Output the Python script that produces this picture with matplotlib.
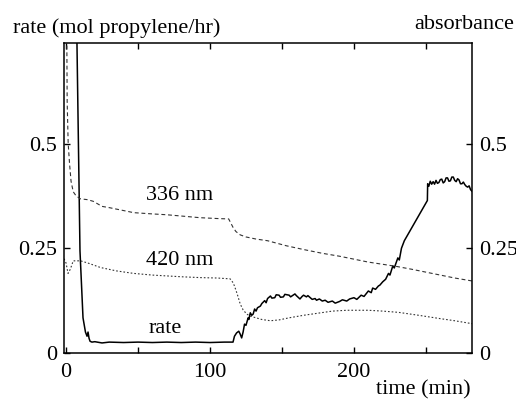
import matplotlib
matplotlib.use("Agg")
import matplotlib.pyplot as plt

# propylene rate (solid), readings against time in minutes
rate_t = [0, 7.0, 7.6, 9.7, 11.8, 13.5, 14.6, 15.3, 16.0, 16.7, 18, 20, 25, 30, 40,
          50, 60, 70, 80, 90, 100, 110, 116, 117, 118.5, 120, 121, 122, 123, 124,
          125, 126.5, 127, 128, 129, 130, 131, 132, 133, 135, 136, 138, 139, 140,
          142, 143, 145, 146, 148, 149, 151, 152, 155, 156, 159, 160, 162.5, 164,
          165, 167, 168, 170, 171, 173, 174, 176, 178, 180, 182, 185, 187, 190, 192,
          195, 197, 200, 202, 205, 207, 210, 212, 213, 215, 217, 218, 220, 222, 224,
          225, 227, 228, 230.5, 231.5, 233, 235, 251, 251.2, 252, 253, 254, 255,
          256, 257, 258, 259, 260, 261, 262, 263, 264, 265, 266, 267, 268, 269,
          270, 271, 272, 273, 274, 275, 276, 277, 278, 279, 280, 281, 282]
rate = [1.5, 1.5, 0.74, 0.244, 0.084, 0.05, 0.04, 0.05, 0.035, 0.028, 0.026, 0.027,
        0.024, 0.026, 0.025, 0.026, 0.025, 0.026, 0.025, 0.026, 0.025, 0.026, 0.026,
        0.04, 0.048, 0.052, 0.045, 0.036, 0.05, 0.069, 0.066, 0.084, 0.08, 0.096,
        0.09, 0.093, 0.105, 0.1, 0.108, 0.112, 0.118, 0.125, 0.12, 0.13, 0.136,
        0.131, 0.132, 0.139, 0.138, 0.133, 0.134, 0.14, 0.138, 0.134, 0.141, 0.137,
        0.129, 0.135, 0.138, 0.134, 0.137, 0.131, 0.128, 0.13, 0.126, 0.129, 0.124,
        0.126, 0.121, 0.124, 0.119, 0.123, 0.127, 0.124, 0.129, 0.132, 0.128, 0.138,
        0.135, 0.148, 0.144, 0.155, 0.152, 0.16, 0.162, 0.17, 0.176, 0.19, 0.186,
        0.208, 0.203, 0.227, 0.222, 0.25, 0.268, 0.364, 0.404, 0.398, 0.41, 0.403,
        0.409, 0.403, 0.412, 0.405, 0.407, 0.414, 0.415, 0.406, 0.409, 0.418,
        0.418, 0.41, 0.411, 0.42, 0.42, 0.412, 0.409, 0.416, 0.413, 0.404, 0.404,
        0.408, 0.402, 0.398, 0.396, 0.399, 0.39, 0.386]

# absorbance at 336 nm (dashed)
a336_t = [0.3, 0.8, 1.5, 2.5, 3.5, 5, 7, 10, 15, 19, 25, 30, 40, 47, 60, 70, 80, 93,
          105, 113, 116, 118, 121, 125, 132, 140, 153, 165, 178, 190, 200, 210, 229,
          240, 250, 260, 270, 282]
a336 = [0.9, 0.6, 0.5, 0.45, 0.41, 0.385, 0.375, 0.368, 0.366, 0.362, 0.35, 0.347,
        0.34, 0.335, 0.332, 0.33, 0.327, 0.323, 0.321, 0.32, 0.30, 0.29, 0.282, 0.277,
        0.272, 0.268, 0.256, 0.247, 0.238, 0.231, 0.224, 0.217, 0.207, 0.2, 0.193,
        0.186, 0.179, 0.172]

# absorbance at 420 nm (dotted)
a420_t = [-1.4, 0, 1.4, 3, 5, 10, 15, 24, 35, 47, 60, 70, 80, 93, 105, 114, 116, 117,
          119, 121, 123, 125.5, 128, 132, 136, 142, 148, 155, 165, 175, 185, 195, 210,
          220, 231, 245, 260, 270, 282]
a420 = [0.225, 0.215, 0.19, 0.2, 0.22, 0.22, 0.215, 0.204, 0.196, 0.19, 0.186, 0.184,
        0.182, 0.18, 0.179, 0.177, 0.168, 0.16, 0.14, 0.117, 0.103, 0.093, 0.088, 0.084,
        0.08, 0.077, 0.079, 0.084, 0.09, 0.095, 0.1, 0.102, 0.102, 0.1, 0.097, 0.09,
        0.082, 0.077, 0.07]

x_ticks = [0, 50, 100, 150, 200, 250]
x_labels = ["0", "", "100", "", "200", ""]
y_ticks = [0, 0.25, 0.5]
y_labels = ["0", "0.25", "0.5"]

plt.rcParams["font.family"] = "Liberation Serif"
fs = 16

fig = plt.figure(figsize=(5.16, 4.0), dpi=100)
ax = fig.add_axes([64 / 516, 47 / 400, 408 / 516, 310 / 400])

ax.plot(rate_t, rate, color="black", lw=1.1)
ax.plot(a336_t, a336, color="#333333", lw=0.8, linestyle=(0, (3.5, 2.5)))
ax.plot(a420_t, a420, color="#333333", lw=0.8, linestyle=(0, (1.5, 1.8)))

ax.set_xlim(-1.4, 282)
ax.set_ylim(0, 0.74)
ax.set_xticks(x_ticks)
ax.set_xticklabels(x_labels)
ax.set_yticks(y_ticks)
ax.set_yticklabels(y_labels)
ax.tick_params(direction="in", length=4, width=1, labelsize=fs,
               top=True, right=True, labelright=True)
ax.tick_params(axis="x", pad=7)
ax.tick_params(axis="y", pad=5)
for s in ax.spines.values():
    s.set_linewidth(1.1)

ax.text(79, 0.366, "336 nm", fontsize=fs, ha="center", va="baseline")
ax.text(79, 0.21, "420 nm", fontsize=fs, ha="center", va="baseline")
ax.text(69, 0.048, "rate", fontsize=fs, ha="center", va="baseline")

fig.text(13 / 516, 1 - 33 / 400, "rate (mol propylene/hr)", fontsize=fs,
         ha="left", va="baseline")
fig.text(514 / 516, 1 - 29 / 400, "absorbance", fontsize=fs,
         ha="right", va="baseline")
fig.text(471 / 516, 1 - 394 / 400, "time (min)", fontsize=fs,
         ha="right", va="baseline")

fig.savefig("out.png", dpi=100)
